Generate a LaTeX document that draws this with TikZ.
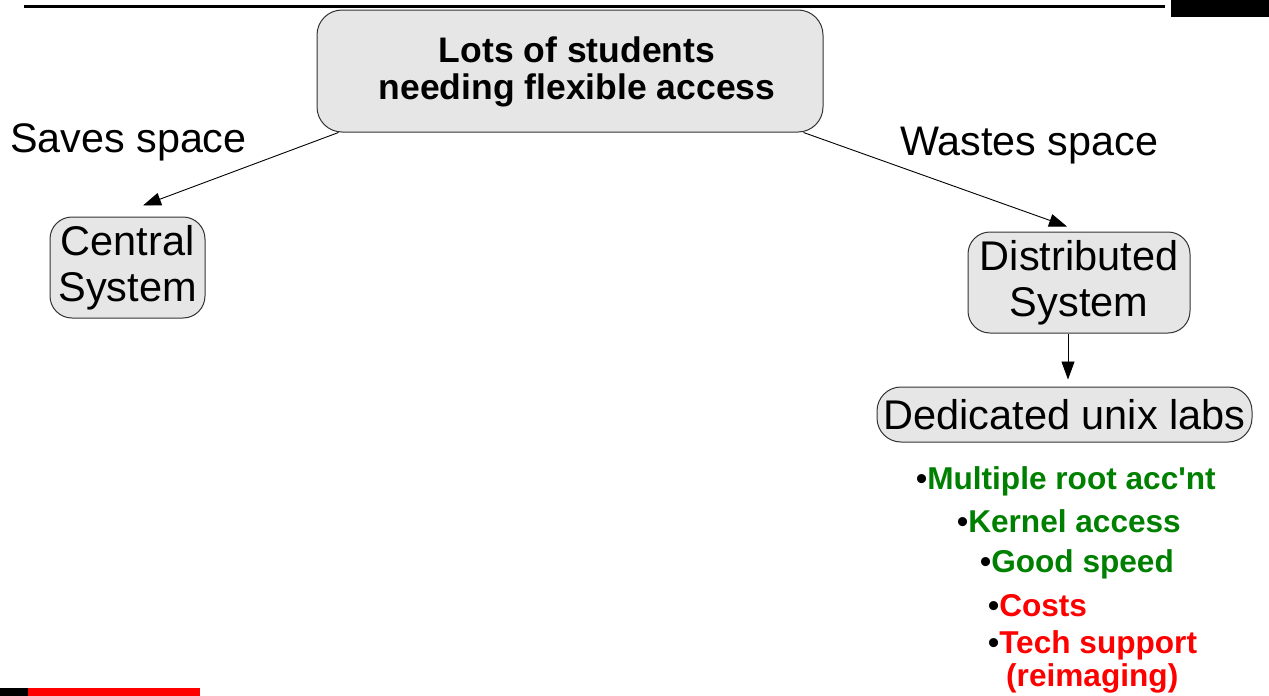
\documentclass[tikz,border=0pt]{standalone}
\usepackage{fontspec}
\setmainfont{Liberation Sans}
\newfontfamily\plainsans{Liberation Sans}
\usetikzlibrary{arrows.meta}
\definecolor{boxfill}{HTML}{E6E6E6}
\definecolor{boxline}{HTML}{333333}
\definecolor{prosgreen}{HTML}{008000}
\definecolor{consred}{HTML}{FF0000}

\begin{document}
\begin{tikzpicture}[x=1pt,y=-1pt,
  box/.style={draw=boxline, fill=boxfill, line width=1pt, rounded corners=22pt,
    inner sep=0pt, align=center, font=\plainsans\fontsize{41.5}{46}\selectfont},
  caption/.style={inner sep=0pt, anchor=base west, font=\plainsans\fontsize{41.3}{46}\selectfont},
  arr/.style={line width=0.9pt, -{Triangle[length=18pt,width=13pt]}},
  item/.style={inner sep=0pt, anchor=base west, font=\plainsans\bfseries\fontsize{31.6}{36}\selectfont}]
\useasboundingbox (0,0) rectangle (1269,696);

% header rule and corner block
\fill[black] (24,5) rectangle (1165,8);
\fill[black] (1171,0) rectangle (1269,17);
% footer bar
\fill[black] (0,688) rectangle (28,696);
\fill[consred] (28,688) rectangle (200,696);

% boxes
\node[box, minimum width=506pt, minimum height=122pt, rounded corners=25pt] (need) at (570,71) {};
\node[inner sep=0pt, align=center, font=\plainsans\bfseries\fontsize{35.5}{37}\selectfont]
  (needtext) at (577,72) {Lots of students\\needing flexible access};
\node[box, minimum width=155pt, minimum height=101pt] (central) at (127.5,267.5) {Central\\System};
\node[box, minimum width=222pt, minimum height=101pt] (dist) at (1079,282.5) {Distributed\\System};
\node[box, minimum width=375pt, minimum height=55pt, rounded corners=24pt] (labs) at (1064.5,414.5) {Dedicated unix labs};

% edge captions
\node[caption] (saves) at (10,152) {Saves space};
\node[caption] (wastes) at (900,155) {Wastes space};

% connectors
\draw[arr] ([xshift=22pt]need.south west) -- ([xshift=15.5pt,yshift=11pt]central.north);
\draw[arr] ([xshift=-20pt]need.south east) -- ([xshift=-12pt,yshift=5pt]dist.north);
\draw[arr] ([xshift=-11pt]dist.south) -- ([xshift=3.5pt,yshift=7pt]labs.north);

% pros and cons
\node[item] (pro1) at (916,489) {•\textcolor{prosgreen}{Multiple root acc'nt}};
\node[item] (pro2) at (957,532) {•\textcolor{prosgreen}{Kernel access}};
\node[item] (pro3) at (980,572) {•\textcolor{prosgreen}{Good speed}};
\node[item] (con1) at (988,616) {•\textcolor{consred}{Costs}};
\node[item] (con2) at (988,653) {•\textcolor{consred}{Tech support}};
\node[item] (con3) at (1006,686) {\textcolor{consred}{(reimaging)}};
\end{tikzpicture}
\end{document}
